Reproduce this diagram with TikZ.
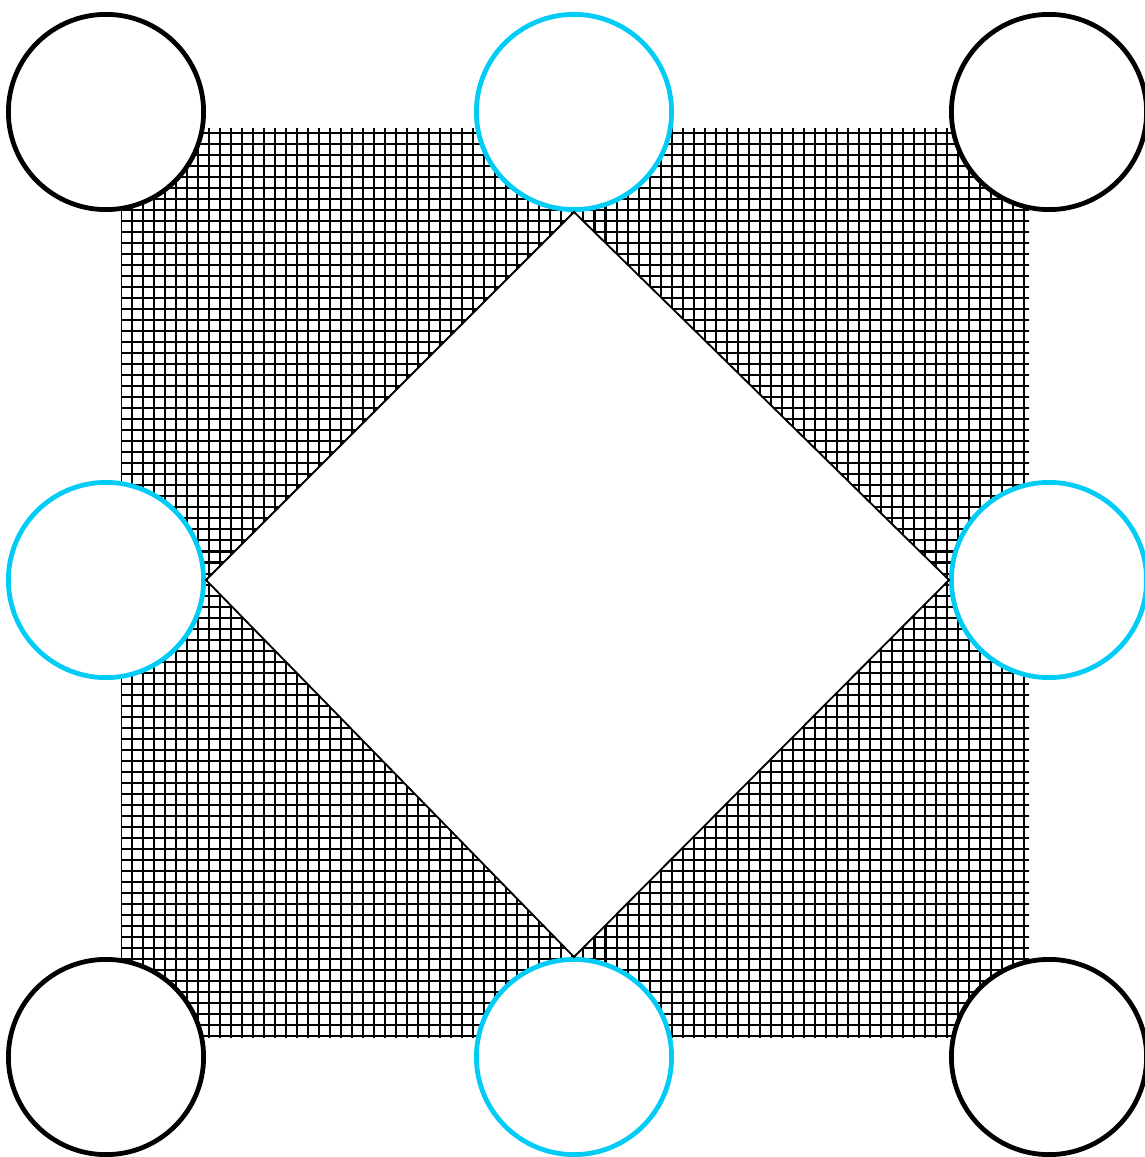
\documentclass[tikz,border=0pt]{standalone}
\usepackage{tikz}
\usetikzlibrary{patterns}
\definecolor{skyline}{RGB}{0,204,245}
\pgfdeclarepatternformonly{cellgrid}{\pgfqpoint{-1pt}{-1pt}}{\pgfqpoint{4pt}{4pt}}{\pgfqpoint{3pt}{3pt}}%
{
  \pgfsetlinewidth{0.55pt}
  \pgfpathmoveto{\pgfqpoint{0pt}{0pt}}
  \pgfpathlineto{\pgfqpoint{0pt}{3.1pt}}
  \pgfpathmoveto{\pgfqpoint{0pt}{0pt}}
  \pgfpathlineto{\pgfqpoint{3.1pt}{0pt}}
  \pgfusepath{stroke}
}

\begin{document}
\begin{tikzpicture}[x=0.2725pt,y=-0.2725pt,
  site/.style={circle, draw=black, fill=white, line width=1.3pt, inner sep=0pt, minimum size=53.2pt},
  midsite/.style={site, draw=skyline}]
\useasboundingbox (0,0) rectangle (1145,1157);
% hatched plate:
\fill[pattern=cellgrid, pattern color=black] (121,129) rectangle (1029,1037);
% corner sites:
\node[site] (tl) at (106,112) {};
\node[site] (tr) at (1049,112) {};
\node[site] (bl) at (106,1057) {};
\node[site] (br) at (1049,1057) {};
% edge sites:
\node[midsite] (mt) at (574,112) {};
\node[midsite] (ml) at (106,580) {};
\node[midsite] (mr) at (1049,580) {};
\node[midsite] (mb) at (574,1057) {};
% cut-out diamond:
\draw[line width=0.5pt, fill=white] (mt.south) -- (ml.east) -- (mb.north) -- (mr.west) -- cycle;
\end{tikzpicture}
\end{document}
